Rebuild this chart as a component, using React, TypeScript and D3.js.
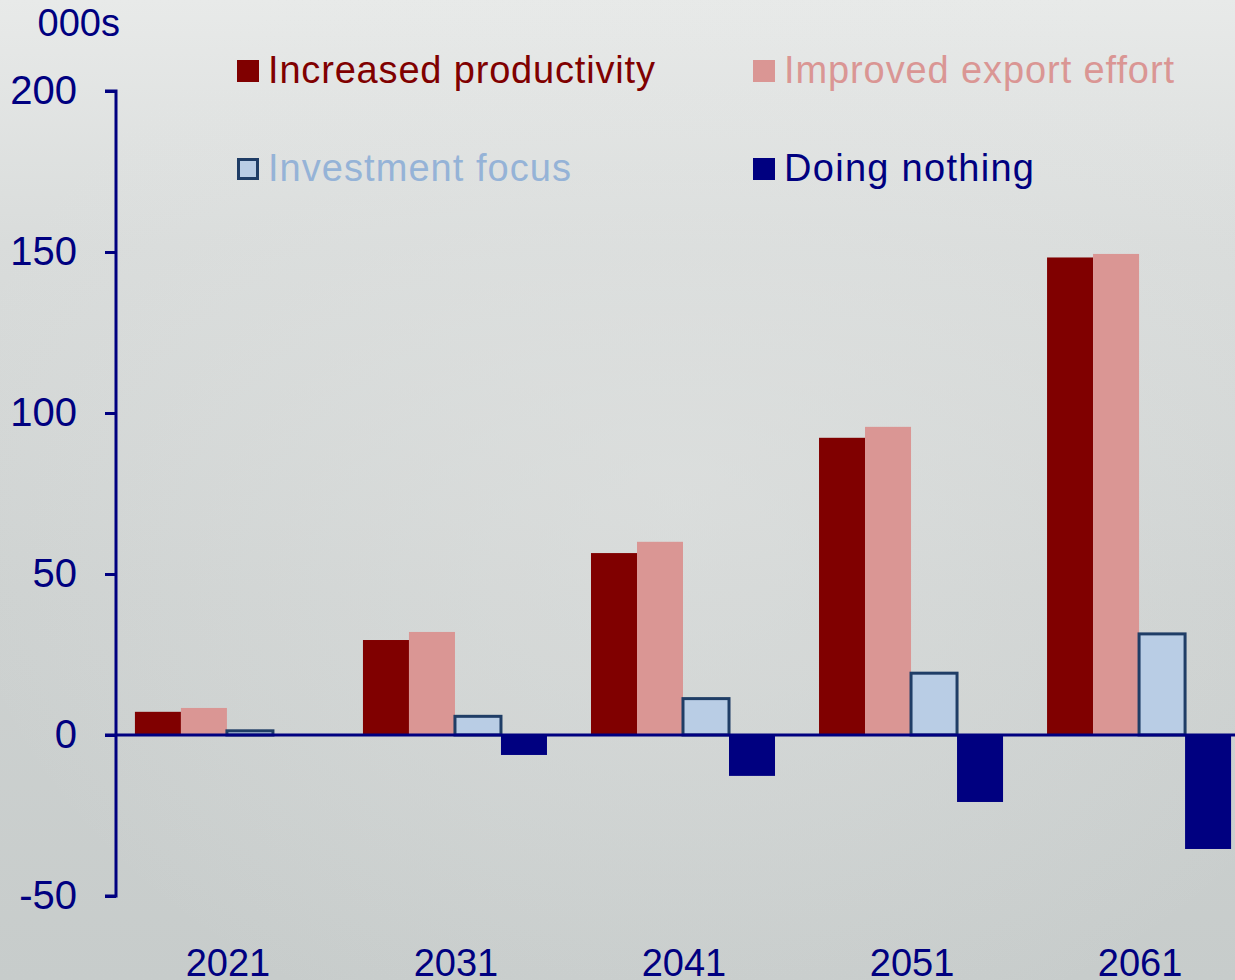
import React, { useEffect, useRef } from 'react';
import * as d3 from 'd3';

const years = ['2021', '2031', '2041', '2051', '2061'];
const increasedProductivity = [7.2, 29.5, 56.5, 92.3, 148.3];
const improvedExport = [8.4, 32, 60, 95.7, 149.4];
const investmentFocus = [1.3, 5.8, 11.3, 19.2, 31.4];
const doingNothing = [-0.3, -6.2, -12.7, -20.8, -35.4];
const yTicks = [-50, 0, 50, 100, 150, 200];

const seriesNames = ['Increased productivity', 'Improved export effort', 'Investment focus', 'Doing nothing'];
const seriesFill = ['#800000', '#da9694', '#b9cde5', '#000080'];
const seriesText = ['#800000', '#da9694', '#95b3d7', '#000080'];
const seriesStroke = ['none', 'none', '#1f3d66', 'none'];

const App = () => {
  const ref = useRef<SVGSVGElement>(null);

  useEffect(() => {
    const width = 1235;
    const height = 980;
    const svg = d3.select(ref.current);
    svg.selectAll('*').remove();
    svg.attr('width', width).attr('height', height);

    const font = '"Liberation Sans", Arial, sans-serif';
    const axisColor = '#000080';

    // background
    const defs = svg.append('defs');
    const lg = defs.append('linearGradient').attr('id', 'bg').attr('x1', 0).attr('y1', 0).attr('x2', 0).attr('y2', 1);
    lg.append('stop').attr('offset', '0%').attr('stop-color', '#e8eae9');
    lg.append('stop').attr('offset', '25%').attr('stop-color', '#d9dcdb');
    lg.append('stop').attr('offset', '60%').attr('stop-color', '#ced2d1');
    lg.append('stop').attr('offset', '100%').attr('stop-color', '#c7cccb');
    svg.append('rect').attr('width', width).attr('height', height).attr('fill', 'url(#bg)');

    const rg = defs.append('radialGradient').attr('id', 'glow').attr('cx', 0.55).attr('cy', 0.5).attr('r', 0.6);
    rg.append('stop').attr('offset', '0%').attr('stop-color', '#e4e6e5').attr('stop-opacity', 0.5);
    rg.append('stop').attr('offset', '100%').attr('stop-color', '#e4e6e5').attr('stop-opacity', 0);
    svg.append('rect').attr('width', width).attr('height', height).attr('fill', 'url(#glow)');

    const data = years.map((year, i) => ({
      year,
      values: [increasedProductivity[i], improvedExport[i], investmentFocus[i], doingNothing[i]],
    }));

    const x0 = d3.scaleBand().domain(years).range([116, 1250]).paddingInner(0.193).paddingOuter(0.083);
    const x1 = d3.scaleBand().domain(d3.range(4).map(String)).range([0, x0.bandwidth()]);
    const y = d3.scaleLinear().domain([-50, 200]).range([896, 91]);

    // bars
    const groups = svg.selectAll('.grp').data(data).enter().append('g')
      .attr('transform', d => `translate(${x0(d.year)},0)`);

    groups.selectAll('rect').data(d => d.values).enter().append('rect')
      .attr('x', (d, i) => x1(String(i)) as number)
      .attr('y', d => y(Math.max(0, d)))
      .attr('width', x1.bandwidth())
      .attr('height', d => Math.abs(y(d) - y(0)))
      .attr('fill', (d, i) => seriesFill[i])
      .attr('stroke', (d, i) => seriesStroke[i])
      .attr('stroke-width', 3);

    // zero line
    svg.append('line')
      .attr('x1', 105).attr('x2', width)
      .attr('y1', y(0)).attr('y2', y(0))
      .attr('stroke', axisColor).attr('stroke-width', 3);

    // y axis
    const yAxis = svg.append('g').attr('transform', 'translate(116,0)')
      .call(d3.axisLeft(y).tickValues(yTicks).tickSize(11).tickPadding(28).tickFormat(d => String(d)));
    yAxis.select('.domain').attr('stroke', axisColor).attr('stroke-width', 3).attr('d', `M-11,${y(200)}H0V${y(-50)}H-11`);
    yAxis.selectAll('.tick line').attr('stroke', axisColor).attr('stroke-width', 3);
    yAxis.selectAll('.tick text').attr('fill', axisColor).style('font-size', '40px').style('font-family', font);

    // year labels
    svg.selectAll('.yr').data(years).enter().append('text')
      .attr('x', d => (x0(d) as number) + x0.bandwidth() / 2 + 1)
      .attr('y', 976)
      .attr('text-anchor', 'middle')
      .attr('fill', axisColor)
      .style('font-size', '38px')
      .style('font-family', font)
      .text(d => d);

    // units label
    svg.append('text')
      .attr('x', 120).attr('y', 36)
      .attr('text-anchor', 'end')
      .attr('fill', axisColor)
      .style('font-size', '38px')
      .style('font-family', font)
      .text('000s');

    // legend
    const legendPos = [
      { x: 237, y: 60, w: 387 },
      { x: 753, y: 60, w: 390 },
      { x: 237, y: 158, w: 303 },
      { x: 753, y: 158, w: 250 },
    ];
    const legend = svg.selectAll('.leg').data(seriesNames).enter().append('g')
      .attr('transform', (d, i) => `translate(${legendPos[i].x},${legendPos[i].y})`);
    legend.append('rect')
      .attr('x', (d, i) => (i === 2 ? 1.5 : 0))
      .attr('y', (d, i) => (i === 2 ? 1.5 : 0))
      .attr('width', (d, i) => (i === 2 ? 19 : 22))
      .attr('height', (d, i) => (i === 2 ? 19 : 22))
      .attr('fill', (d, i) => seriesFill[i])
      .attr('stroke', (d, i) => seriesStroke[i])
      .attr('stroke-width', 3);
    legend.append('text')
      .attr('x', 31).attr('y', 23)
      .attr('fill', (d, i) => seriesText[i])
      .attr('textLength', (d, i) => legendPos[i].w)
      .attr('lengthAdjust', 'spacing')
      .style('font-size', '38px')
      .style('font-family', font)
      .text(d => d);
  }, []);

  return <svg ref={ref} style={{ position: 'absolute', left: 0, top: 0, display: 'block' }}></svg>;
};

export default App;
